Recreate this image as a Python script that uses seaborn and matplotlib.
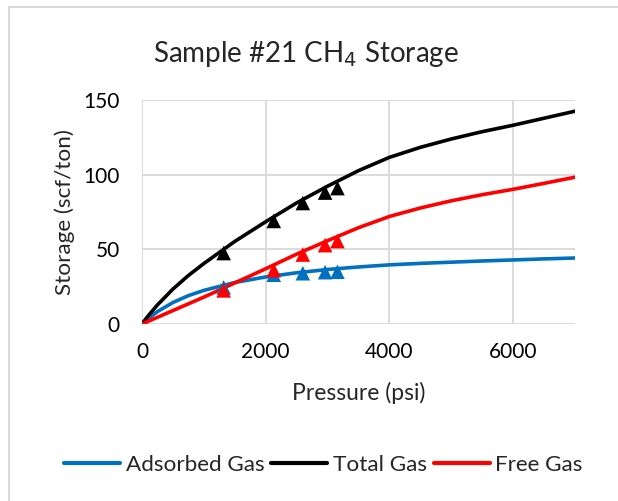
import matplotlib
matplotlib.use("Agg")
import matplotlib.pyplot as plt
from matplotlib.patches import Rectangle
import pandas as pd
import seaborn as sns

# Model curves (psi vs scf/ton)
pressure = [0, 100, 250, 500, 750, 1000, 1500, 2000, 2500, 3000, 3500,
            4000, 4500, 5000, 5500, 6000, 6500, 7000]
adsorbed = [0, 3.7, 8.3, 14.4, 19.0, 22.5, 27.8, 31.5, 34.3, 36.5, 38.2,
            39.6, 40.6, 41.4, 42.2, 42.9, 43.6, 44.2]
free_gas = [0, 1.8, 4.5, 9.0, 13.5, 18.0, 27.5, 37.0, 46.8, 55.8, 64.5,
            72.0, 77.7, 82.5, 86.6, 90.2, 94.2, 98.3]
total = [0, 5.5, 12.8, 23.4, 32.5, 40.5, 55.3, 68.5, 81.1, 92.3, 102.7,
         111.6, 118.3, 123.9, 128.8, 133.1, 137.8, 142.5]

# Measured points
meas_pressure = [1320, 2130, 2600, 2960, 3160]
meas_adsorbed = [24.5, 33.0, 34.0, 34.7, 35.0]
meas_free = [22.5, 36.0, 46.5, 52.8, 55.5]
meas_total = [47.5, 69.0, 81.0, 88.0, 91.0]

series_names = ["Adsorbed Gas", "Total Gas", "Free Gas"]
colors = {"Adsorbed Gas": "#0070C0", "Total Gas": "#000000", "Free Gas": "#FF0000"}

curves = pd.concat([
    pd.DataFrame({"Pressure": pressure, "Storage": adsorbed, "Series": "Adsorbed Gas"}),
    pd.DataFrame({"Pressure": pressure, "Storage": total, "Series": "Total Gas"}),
    pd.DataFrame({"Pressure": pressure, "Storage": free_gas, "Series": "Free Gas"}),
])
points = pd.concat([
    pd.DataFrame({"Pressure": meas_pressure, "Storage": meas_adsorbed, "Series": "Adsorbed Gas"}),
    pd.DataFrame({"Pressure": meas_pressure, "Storage": meas_total, "Series": "Total Gas"}),
    pd.DataFrame({"Pressure": meas_pressure, "Storage": meas_free, "Series": "Free Gas"}),
])

sns.set_theme(style="white")
plt.rcParams["font.family"] = ["Lato", "DejaVu Sans"]

fig = plt.figure(figsize=(6.18, 5.01), dpi=100)
ax = fig.add_axes([142 / 618, 1 - 324 / 501, 433 / 618, 224 / 501])

sns.lineplot(data=curves, x="Pressure", y="Storage", hue="Series",
             hue_order=series_names, palette=colors, linewidth=2.6,
             sort=False, ax=ax, legend=False, zorder=3)
sns.scatterplot(data=points, x="Pressure", y="Storage", hue="Series",
                hue_order=series_names, palette=colors, marker="^", s=110,
                linewidth=0, ax=ax, legend=False, zorder=4, clip_on=False)

ax.set_xlim(0, 7000)
ax.set_ylim(0, 150)
ax.set_xticks([0, 2000, 4000, 6000])
ax.set_yticks([0, 50, 100, 150])
ax.grid(True, color="#D9D9D9", linewidth=1.3)
ax.set_axisbelow(True)
for side in ["top", "right", "left", "bottom"]:
    ax.spines[side].set_visible(False)
ax.tick_params(axis="both", length=0, labelsize=15, colors="#000000")
ax.tick_params(axis="x", pad=13)
ax.tick_params(axis="y", pad=16)
ax.set_xlabel("Pressure (psi)", fontsize=16.5, labelpad=14)
ax.set_ylabel("Storage (scf/ton)", fontsize=16.2, labelpad=6)

fig.text(0.495, 1 - 54 / 501, "Sample #21 CH$_4$ Storage", ha="center",
         va="center", fontsize=20)

handles = [plt.Line2D([], [], color=colors[n], linewidth=3) for n in series_names]
fig.legend(handles, series_names, loc="center", bbox_to_anchor=(0.523, 1 - 465 / 501),
           ncol=3, frameon=False, fontsize=16.2, handlelength=2.5,
           handletextpad=0.25, columnspacing=0.3)

# chart area border
fig.patches.append(Rectangle((9 / 618, -0.1), 1.2, 1 - 7 / 501 + 0.1,
                             transform=fig.transFigure, fill=False,
                             edgecolor="#D9D9D9", linewidth=1.5))

fig.savefig("out.png", dpi=100)
